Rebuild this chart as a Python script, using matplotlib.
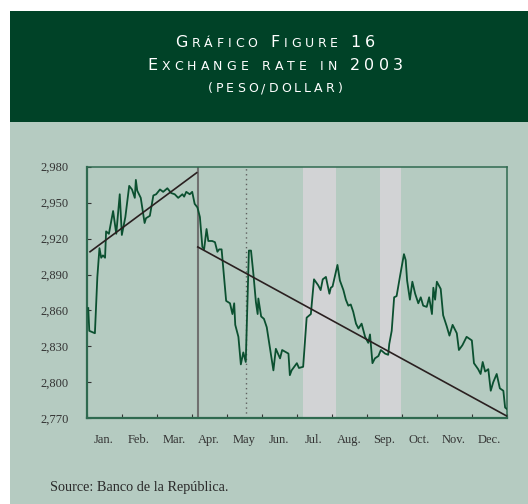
import matplotlib
matplotlib.use("Agg")
import matplotlib.pyplot as plt
from matplotlib.patches import Rectangle
from matplotlib.ticker import FixedLocator, FuncFormatter

# ---------------- data ----------------
months = ["Jan.", "Feb.", "Mar.", "Apr.", "May", "Jun.",
          "Jul.", "Aug.", "Sep.", "Oct.", "Nov.", "Dec."]

# time in fractional months (0 = 1 Jan, 12 = 31 Dec)
t = [0.05, 0.08, 0.24, 0.31, 0.37, 0.42, 0.47, 0.53, 0.56, 0.64,
     0.76, 0.85, 0.95, 1.01, 1.11, 1.22, 1.30, 1.38, 1.41, 1.45,
     1.55, 1.66, 1.70, 1.81, 1.91, 1.99, 2.10, 2.19, 2.31, 2.42,
     2.52, 2.62, 2.74, 2.79, 2.85, 2.95, 3.02, 3.09, 3.17, 3.24,
     3.31, 3.36, 3.43, 3.48, 3.59, 3.67, 3.74, 3.79, 3.86, 3.99,
     4.10, 4.17, 4.22, 4.25, 4.34, 4.41, 4.48, 4.55, 4.64, 4.70,
     4.77, 4.84, 4.89, 4.91, 4.99, 5.07, 5.15, 5.24, 5.34, 5.41,
     5.53, 5.59, 5.77, 5.81, 5.86, 6.01, 6.07, 6.19, 6.29, 6.41,
     6.50, 6.62, 6.69, 6.75, 6.84, 6.94, 6.98, 7.03, 7.17, 7.24,
     7.34, 7.41, 7.48, 7.55, 7.62, 7.70, 7.77, 7.86, 7.96, 8.05,
     8.10, 8.17, 8.24, 8.34, 8.41, 8.53, 8.62, 8.65, 8.72, 8.79,
     8.86, 8.96, 9.07, 9.12, 9.16, 9.24, 9.31, 9.39, 9.48, 9.55,
     9.62, 9.72, 9.79, 9.87, 9.91, 9.96, 10.01, 10.12, 10.19, 10.29,
     10.37, 10.46, 10.58, 10.64, 10.74, 10.86, 11.01, 11.07, 11.19, 11.26,
     11.32, 11.39, 11.48, 11.55, 11.62, 11.72, 11.81, 11.91, 11.96, 12.0]
rate = [2862, 2843, 2841, 2888, 2912, 2904, 2906, 2904, 2926, 2924,
        2943, 2924, 2957, 2923, 2938, 2964, 2961, 2954, 2969, 2960,
        2954, 2933, 2937, 2939, 2956, 2957, 2961, 2959, 2962, 2958,
        2957, 2954, 2957, 2955, 2959, 2957, 2959, 2949, 2946, 2938,
        2913, 2911, 2928, 2918, 2918, 2917, 2909, 2911, 2911, 2868,
        2866, 2857, 2866, 2848, 2838, 2815, 2825, 2817, 2910, 2910,
        2890, 2867, 2857, 2870, 2855, 2853, 2846, 2829, 2810, 2828,
        2820, 2827, 2824, 2806, 2810, 2816, 2812, 2813, 2854, 2857,
        2886, 2881, 2877, 2886, 2888, 2874, 2879, 2880, 2898, 2885,
        2877, 2869, 2864, 2865, 2859, 2849, 2845, 2849, 2838, 2833,
        2840, 2816, 2820, 2822, 2827, 2824, 2823, 2832, 2843, 2871,
        2872, 2889, 2907, 2902, 2885, 2869, 2884, 2874, 2866, 2871,
        2864, 2863, 2871, 2857, 2879, 2869, 2884, 2878, 2856, 2847,
        2839, 2848, 2841, 2827, 2831, 2838, 2835, 2816, 2811, 2807,
        2817, 2809, 2811, 2793, 2800, 2807, 2795, 2793, 2779, 2778]

trend1_t = [0.10, 3.15]
trend1_v = [2909, 2975]
trend2_t = [3.18, 12.0]
trend2_v = [2913, 2772]

rule_change_t = 3.18      # solid vertical line
dotted_t = 4.55           # dotted vertical line
shaded = [(6.18, 7.13), (8.39, 8.99)]

yticks = [2770, 2800, 2830, 2860, 2890, 2920, 2950, 2980]

title_lines = ["Gráfico Figure 16", "Exchange rate in 2003", "(peso/dollar)"]
source = "Source: Banco de la República."

# ---------------- style ----------------
W, H = 528, 504
BG = "#b5cbc1"
HDR = "#004227"
LINE = "#0b5030"
TREND = "#2a2020"
SPINE = "#2f6a50"
TXT = "#333333"
SHADE = "#d2d3d5"

fig = plt.figure(figsize=(W / 100, H / 100), dpi=100)
fig.patch.set_facecolor("white")
fig.add_artist(Rectangle((10 / W, 0), 518 / W, (H - 122) / H,
                         transform=fig.transFigure, facecolor=BG, edgecolor="none", zorder=0))
fig.add_artist(Rectangle((10 / W, (H - 122) / H), 518 / W, 111 / H,
                         transform=fig.transFigure, facecolor=HDR, edgecolor="none", zorder=0))


def smallcaps(text, y_px, big, small, target_w, cx=275):
    renderer = fig.canvas.get_renderer()
    items = []
    for ch in text:
        if ch == " ":
            items.append((None, big * 0.30 * 100 / 72))
            continue
        size = big if (ch.isupper() or ch.isdigit()) else small
        tx = fig.text(0, 1 - y_px / H, ch.upper(), fontsize=size, color="white",
                      family="DejaVu Sans", va="baseline", ha="left", zorder=5)
        w = tx.get_window_extent(renderer).width
        items.append((tx, w))
    natural = sum(w for _, w in items)
    track = (target_w - natural) / (len(items) - 1)
    x = cx - target_w / 2
    for tx, w in items:
        if tx is not None:
            tx.set_x(x / W)
        x += w + track


smallcaps(title_lines[0], 47, 11.5, 9.0, 200)
smallcaps(title_lines[1], 70, 11.5, 9.0, 256)
smallcaps(title_lines[2], 92, 11.5, 9.0, 135)

ax = fig.add_axes([86.5 / W, (H - 418.3) / H, 420 / W, (418.3 - 166.7) / H])
ax.set_facecolor("none")
ax.set_xlim(0, 12)
ax.set_ylim(2770, 2980)

for a, b in shaded:
    ax.axvspan(a, b, color=SHADE, lw=0, zorder=1)

ax.plot(t, rate, color=LINE, lw=1.3, zorder=3)
ax.plot(trend1_t, trend1_v, color=TREND, lw=1.2, zorder=4)
ax.plot(trend2_t, trend2_v, color=TREND, lw=1.2, zorder=4)
ax.axvline(rule_change_t, color="#707070", lw=1.5, zorder=2)
ax.axvline(dotted_t, color="#606060", lw=1.0, ls=(0, (1, 2.5)), zorder=2)

ax.xaxis.set_major_locator(FixedLocator(list(range(13))))
ax.xaxis.set_minor_locator(FixedLocator([i + 0.5 for i in range(12)]))
ax.set_xticklabels([], minor=False)
ax.set_xticklabels(months, minor=True)
ax.tick_params(axis="x", which="major", direction="in", length=3, color="#333333", width=0.8)
ax.tick_params(axis="x", which="minor", length=0, pad=11)
ax.set_yticks(yticks)
ax.yaxis.set_major_formatter(FuncFormatter(lambda v, p: f"{int(v):,}"))
ax.tick_params(axis="y", direction="in", length=3, color="#333333", width=0.8, pad=13)
for lab in ax.get_xticklabels(minor=True) + ax.get_yticklabels():
    lab.set_family("Liberation Serif")
    lab.set_fontsize(9)
    lab.set_color(TXT)

for side in ["left", "bottom"]:
    ax.spines[side].set_color(SPINE)
    ax.spines[side].set_linewidth(1.6)
for side in ["top", "right"]:
    ax.spines[side].set_color(SPINE)
    ax.spines[side].set_linewidth(1.1)

fig.text(50 / W, 1 - 488 / H, source, family="Liberation Serif", fontsize=10.3,
         color="#2a2a2a", va="center", ha="left")

fig.savefig("out.png", dpi=100)
